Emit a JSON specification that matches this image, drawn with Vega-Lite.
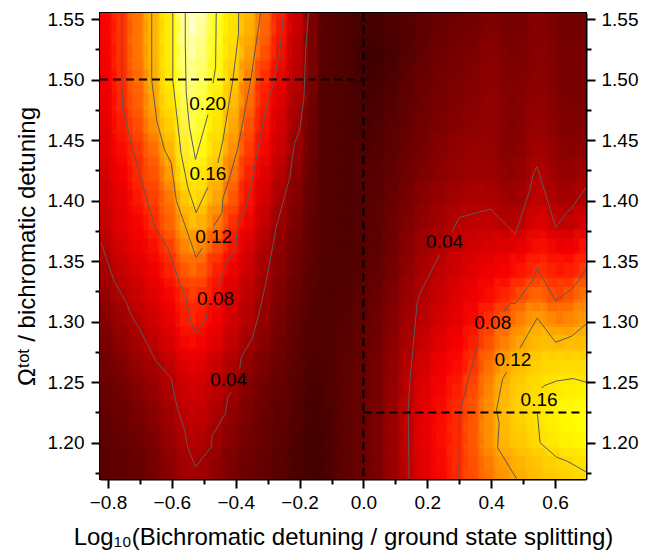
{"$schema":"https://vega.github.io/schema/vega-lite/v6.json","width":486,"height":466,"autosize":"none","padding":{"left":100,"top":13,"right":66,"bottom":73},"background":"white","config":{"view":{"stroke":"#000","strokeWidth":2},"axis":{"grid":false,"labelFont":"Liberation Sans","labelFontSize":19,"labelColor":"#000","titleFont":"Liberation Sans","titleColor":"#000","titleFontWeight":"normal","tickColor":"#000","tickWidth":2,"domainColor":"#000","domainWidth":2,"zindex":1}},"resolve":{"axis":{"x":"independent","y":"independent"}},"datasets":{"grid":[
{"x":-0.825,"y":1.55,"v":0.058},{"x":-0.775,"y":1.55,"v":0.073},{"x":-0.725,"y":1.55,"v":0.093},{"x":-0.675,"y":1.55,"v":0.115},{"x":-0.625,"y":1.55,"v":0.143},{"x":-0.575,"y":1.55,"v":0.183},{"x":-0.525,"y":1.55,"v":0.23},{"x":-0.475,"y":1.55,"v":0.21},{"x":-0.425,"y":1.55,"v":0.18},{"x":-0.375,"y":1.55,"v":0.15},{"x":-0.325,"y":1.55,"v":0.122},{"x":-0.275,"y":1.55,"v":0.094},{"x":-0.225,"y":1.55,"v":0.067},{"x":-0.175,"y":1.55,"v":0.042},{"x":-0.125,"y":1.55,"v":0.01},{"x":-0.075,"y":1.55,"v":0.007},{"x":-0.025,"y":1.55,"v":0.006},{"x":0.025,"y":1.55,"v":0.005},{"x":0.075,"y":1.55,"v":0.006},{"x":0.125,"y":1.55,"v":0.007},{"x":0.175,"y":1.55,"v":0.009},{"x":0.225,"y":1.55,"v":0.011},{"x":0.275,"y":1.55,"v":0.013},{"x":0.325,"y":1.55,"v":0.016},{"x":0.375,"y":1.55,"v":0.017},{"x":0.425,"y":1.55,"v":0.022},{"x":0.475,"y":1.55,"v":0.017},{"x":0.525,"y":1.55,"v":0.02},{"x":0.575,"y":1.55,"v":0.025},{"x":0.625,"y":1.55,"v":0.017},{"x":0.675,"y":1.55,"v":0.017},{"x":0.725,"y":1.55,"v":0.017},
{"x":-0.825,"y":1.53,"v":0.058},{"x":-0.775,"y":1.53,"v":0.073},{"x":-0.725,"y":1.53,"v":0.093},{"x":-0.675,"y":1.53,"v":0.115},{"x":-0.625,"y":1.53,"v":0.143},{"x":-0.575,"y":1.53,"v":0.183},{"x":-0.525,"y":1.53,"v":0.225},{"x":-0.475,"y":1.53,"v":0.205},{"x":-0.425,"y":1.53,"v":0.175},{"x":-0.375,"y":1.53,"v":0.146},{"x":-0.325,"y":1.53,"v":0.118},{"x":-0.275,"y":1.53,"v":0.09},{"x":-0.225,"y":1.53,"v":0.062},{"x":-0.175,"y":1.53,"v":0.038},{"x":-0.125,"y":1.53,"v":0.01},{"x":-0.075,"y":1.53,"v":0.007},{"x":-0.025,"y":1.53,"v":0.006},{"x":0.025,"y":1.53,"v":0.004},{"x":0.075,"y":1.53,"v":0.005},{"x":0.125,"y":1.53,"v":0.006},{"x":0.175,"y":1.53,"v":0.008},{"x":0.225,"y":1.53,"v":0.012},{"x":0.275,"y":1.53,"v":0.016},{"x":0.325,"y":1.53,"v":0.018},{"x":0.375,"y":1.53,"v":0.02},{"x":0.425,"y":1.53,"v":0.025},{"x":0.475,"y":1.53,"v":0.018},{"x":0.525,"y":1.53,"v":0.021},{"x":0.575,"y":1.53,"v":0.026},{"x":0.625,"y":1.53,"v":0.018},{"x":0.675,"y":1.53,"v":0.018},{"x":0.725,"y":1.53,"v":0.018},
{"x":-0.825,"y":1.51,"v":0.056},{"x":-0.775,"y":1.51,"v":0.072},{"x":-0.725,"y":1.51,"v":0.093},{"x":-0.675,"y":1.51,"v":0.115},{"x":-0.625,"y":1.51,"v":0.143},{"x":-0.575,"y":1.51,"v":0.183},{"x":-0.525,"y":1.51,"v":0.22},{"x":-0.475,"y":1.51,"v":0.202},{"x":-0.425,"y":1.51,"v":0.172},{"x":-0.375,"y":1.51,"v":0.14},{"x":-0.325,"y":1.51,"v":0.11},{"x":-0.275,"y":1.51,"v":0.081},{"x":-0.225,"y":1.51,"v":0.056},{"x":-0.175,"y":1.51,"v":0.037},{"x":-0.125,"y":1.51,"v":0.009},{"x":-0.075,"y":1.51,"v":0.007},{"x":-0.025,"y":1.51,"v":0.006},{"x":0.025,"y":1.51,"v":0.003},{"x":0.075,"y":1.51,"v":0.004},{"x":0.125,"y":1.51,"v":0.006},{"x":0.175,"y":1.51,"v":0.009},{"x":0.225,"y":1.51,"v":0.014},{"x":0.275,"y":1.51,"v":0.018},{"x":0.325,"y":1.51,"v":0.02},{"x":0.375,"y":1.51,"v":0.023},{"x":0.425,"y":1.51,"v":0.027},{"x":0.475,"y":1.51,"v":0.02},{"x":0.525,"y":1.51,"v":0.023},{"x":0.575,"y":1.51,"v":0.027},{"x":0.625,"y":1.51,"v":0.02},{"x":0.675,"y":1.51,"v":0.019},{"x":0.725,"y":1.51,"v":0.02},
{"x":-0.825,"y":1.49,"v":0.054},{"x":-0.775,"y":1.49,"v":0.07},{"x":-0.725,"y":1.49,"v":0.09},{"x":-0.675,"y":1.49,"v":0.11},{"x":-0.625,"y":1.49,"v":0.14},{"x":-0.575,"y":1.49,"v":0.18},{"x":-0.525,"y":1.49,"v":0.215},{"x":-0.475,"y":1.49,"v":0.197},{"x":-0.425,"y":1.49,"v":0.168},{"x":-0.375,"y":1.49,"v":0.13},{"x":-0.325,"y":1.49,"v":0.098},{"x":-0.275,"y":1.49,"v":0.072},{"x":-0.225,"y":1.49,"v":0.052},{"x":-0.175,"y":1.49,"v":0.036},{"x":-0.125,"y":1.49,"v":0.009},{"x":-0.075,"y":1.49,"v":0.007},{"x":-0.025,"y":1.49,"v":0.006},{"x":0.025,"y":1.49,"v":0.004},{"x":0.075,"y":1.49,"v":0.005},{"x":0.125,"y":1.49,"v":0.008},{"x":0.175,"y":1.49,"v":0.011},{"x":0.225,"y":1.49,"v":0.016},{"x":0.275,"y":1.49,"v":0.02},{"x":0.325,"y":1.49,"v":0.022},{"x":0.375,"y":1.49,"v":0.025},{"x":0.425,"y":1.49,"v":0.029},{"x":0.475,"y":1.49,"v":0.021},{"x":0.525,"y":1.49,"v":0.024},{"x":0.575,"y":1.49,"v":0.028},{"x":0.625,"y":1.49,"v":0.021},{"x":0.675,"y":1.49,"v":0.019},{"x":0.725,"y":1.49,"v":0.022},
{"x":-0.825,"y":1.47,"v":0.052},{"x":-0.775,"y":1.47,"v":0.067},{"x":-0.725,"y":1.47,"v":0.087},{"x":-0.675,"y":1.47,"v":0.107},{"x":-0.625,"y":1.47,"v":0.135},{"x":-0.575,"y":1.47,"v":0.17},{"x":-0.525,"y":1.47,"v":0.21},{"x":-0.475,"y":1.47,"v":0.186},{"x":-0.425,"y":1.47,"v":0.157},{"x":-0.375,"y":1.47,"v":0.12},{"x":-0.325,"y":1.47,"v":0.092},{"x":-0.275,"y":1.47,"v":0.068},{"x":-0.225,"y":1.47,"v":0.048},{"x":-0.175,"y":1.47,"v":0.03},{"x":-0.125,"y":1.47,"v":0.008},{"x":-0.075,"y":1.47,"v":0.006},{"x":-0.025,"y":1.47,"v":0.006},{"x":0.025,"y":1.47,"v":0.005},{"x":0.075,"y":1.47,"v":0.006},{"x":0.125,"y":1.47,"v":0.009},{"x":0.175,"y":1.47,"v":0.013},{"x":0.225,"y":1.47,"v":0.018},{"x":0.275,"y":1.47,"v":0.021},{"x":0.325,"y":1.47,"v":0.024},{"x":0.375,"y":1.47,"v":0.027},{"x":0.425,"y":1.47,"v":0.03},{"x":0.475,"y":1.47,"v":0.021},{"x":0.525,"y":1.47,"v":0.027},{"x":0.575,"y":1.47,"v":0.03},{"x":0.625,"y":1.47,"v":0.023},{"x":0.675,"y":1.47,"v":0.02},{"x":0.725,"y":1.47,"v":0.023},
{"x":-0.825,"y":1.45,"v":0.05},{"x":-0.775,"y":1.45,"v":0.063},{"x":-0.725,"y":1.45,"v":0.08},{"x":-0.675,"y":1.45,"v":0.1},{"x":-0.625,"y":1.45,"v":0.125},{"x":-0.575,"y":1.45,"v":0.155},{"x":-0.525,"y":1.45,"v":0.205},{"x":-0.475,"y":1.45,"v":0.175},{"x":-0.425,"y":1.45,"v":0.15},{"x":-0.375,"y":1.45,"v":0.113},{"x":-0.325,"y":1.45,"v":0.08},{"x":-0.275,"y":1.45,"v":0.062},{"x":-0.225,"y":1.45,"v":0.043},{"x":-0.175,"y":1.45,"v":0.027},{"x":-0.125,"y":1.45,"v":0.008},{"x":-0.075,"y":1.45,"v":0.006},{"x":-0.025,"y":1.45,"v":0.006},{"x":0.025,"y":1.45,"v":0.005},{"x":0.075,"y":1.45,"v":0.007},{"x":0.125,"y":1.45,"v":0.01},{"x":0.175,"y":1.45,"v":0.015},{"x":0.225,"y":1.45,"v":0.02},{"x":0.275,"y":1.45,"v":0.023},{"x":0.325,"y":1.45,"v":0.027},{"x":0.375,"y":1.45,"v":0.029},{"x":0.425,"y":1.45,"v":0.029},{"x":0.475,"y":1.45,"v":0.021},{"x":0.525,"y":1.45,"v":0.027},{"x":0.575,"y":1.45,"v":0.033},{"x":0.625,"y":1.45,"v":0.024},{"x":0.675,"y":1.45,"v":0.021},{"x":0.725,"y":1.45,"v":0.025},
{"x":-0.825,"y":1.43,"v":0.048},{"x":-0.775,"y":1.43,"v":0.06},{"x":-0.725,"y":1.43,"v":0.073},{"x":-0.675,"y":1.43,"v":0.09},{"x":-0.625,"y":1.43,"v":0.108},{"x":-0.575,"y":1.43,"v":0.145},{"x":-0.525,"y":1.43,"v":0.198},{"x":-0.475,"y":1.43,"v":0.172},{"x":-0.425,"y":1.43,"v":0.135},{"x":-0.375,"y":1.43,"v":0.105},{"x":-0.325,"y":1.43,"v":0.075},{"x":-0.275,"y":1.43,"v":0.058},{"x":-0.225,"y":1.43,"v":0.042},{"x":-0.175,"y":1.43,"v":0.024},{"x":-0.125,"y":1.43,"v":0.008},{"x":-0.075,"y":1.43,"v":0.006},{"x":-0.025,"y":1.43,"v":0.006},{"x":0.025,"y":1.43,"v":0.006},{"x":0.075,"y":1.43,"v":0.008},{"x":0.125,"y":1.43,"v":0.012},{"x":0.175,"y":1.43,"v":0.017},{"x":0.225,"y":1.43,"v":0.022},{"x":0.275,"y":1.43,"v":0.026},{"x":0.325,"y":1.43,"v":0.03},{"x":0.375,"y":1.43,"v":0.031},{"x":0.425,"y":1.43,"v":0.03},{"x":0.475,"y":1.43,"v":0.024},{"x":0.525,"y":1.43,"v":0.03},{"x":0.575,"y":1.43,"v":0.039},{"x":0.625,"y":1.43,"v":0.026},{"x":0.675,"y":1.43,"v":0.026},{"x":0.725,"y":1.43,"v":0.03},
{"x":-0.825,"y":1.41,"v":0.046},{"x":-0.775,"y":1.41,"v":0.056},{"x":-0.725,"y":1.41,"v":0.067},{"x":-0.675,"y":1.41,"v":0.088},{"x":-0.625,"y":1.41,"v":0.1},{"x":-0.575,"y":1.41,"v":0.133},{"x":-0.525,"y":1.41,"v":0.18},{"x":-0.475,"y":1.41,"v":0.15},{"x":-0.425,"y":1.41,"v":0.125},{"x":-0.375,"y":1.41,"v":0.093},{"x":-0.325,"y":1.41,"v":0.066},{"x":-0.275,"y":1.41,"v":0.05},{"x":-0.225,"y":1.41,"v":0.034},{"x":-0.175,"y":1.41,"v":0.02},{"x":-0.125,"y":1.41,"v":0.008},{"x":-0.075,"y":1.41,"v":0.006},{"x":-0.025,"y":1.41,"v":0.006},{"x":0.025,"y":1.41,"v":0.007},{"x":0.075,"y":1.41,"v":0.009},{"x":0.125,"y":1.41,"v":0.014},{"x":0.175,"y":1.41,"v":0.02},{"x":0.225,"y":1.41,"v":0.025},{"x":0.275,"y":1.41,"v":0.029},{"x":0.325,"y":1.41,"v":0.033},{"x":0.375,"y":1.41,"v":0.035},{"x":0.425,"y":1.41,"v":0.034},{"x":0.475,"y":1.41,"v":0.027},{"x":0.525,"y":1.41,"v":0.035},{"x":0.575,"y":1.41,"v":0.044},{"x":0.625,"y":1.41,"v":0.03},{"x":0.675,"y":1.41,"v":0.031},{"x":0.725,"y":1.41,"v":0.04},
{"x":-0.825,"y":1.39,"v":0.044},{"x":-0.775,"y":1.39,"v":0.053},{"x":-0.725,"y":1.39,"v":0.062},{"x":-0.675,"y":1.39,"v":0.078},{"x":-0.625,"y":1.39,"v":0.093},{"x":-0.575,"y":1.39,"v":0.112},{"x":-0.525,"y":1.39,"v":0.16},{"x":-0.475,"y":1.39,"v":0.138},{"x":-0.425,"y":1.39,"v":0.112},{"x":-0.375,"y":1.39,"v":0.083},{"x":-0.325,"y":1.39,"v":0.06},{"x":-0.275,"y":1.39,"v":0.044},{"x":-0.225,"y":1.39,"v":0.03},{"x":-0.175,"y":1.39,"v":0.017},{"x":-0.125,"y":1.39,"v":0.008},{"x":-0.075,"y":1.39,"v":0.006},{"x":-0.025,"y":1.39,"v":0.006},{"x":0.025,"y":1.39,"v":0.007},{"x":0.075,"y":1.39,"v":0.01},{"x":0.125,"y":1.39,"v":0.016},{"x":0.175,"y":1.39,"v":0.023},{"x":0.225,"y":1.39,"v":0.029},{"x":0.275,"y":1.39,"v":0.034},{"x":0.325,"y":1.39,"v":0.04},{"x":0.375,"y":1.39,"v":0.041},{"x":0.425,"y":1.39,"v":0.04},{"x":0.475,"y":1.39,"v":0.033},{"x":0.525,"y":1.39,"v":0.04},{"x":0.575,"y":1.39,"v":0.05},{"x":0.625,"y":1.39,"v":0.037},{"x":0.675,"y":1.39,"v":0.039},{"x":0.725,"y":1.39,"v":0.045},
{"x":-0.825,"y":1.37,"v":0.04},{"x":-0.775,"y":1.37,"v":0.05},{"x":-0.725,"y":1.37,"v":0.06},{"x":-0.675,"y":1.37,"v":0.07},{"x":-0.625,"y":1.37,"v":0.088},{"x":-0.575,"y":1.37,"v":0.108},{"x":-0.525,"y":1.37,"v":0.135},{"x":-0.475,"y":1.37,"v":0.118},{"x":-0.425,"y":1.37,"v":0.097},{"x":-0.375,"y":1.37,"v":0.072},{"x":-0.325,"y":1.37,"v":0.055},{"x":-0.275,"y":1.37,"v":0.038},{"x":-0.225,"y":1.37,"v":0.026},{"x":-0.175,"y":1.37,"v":0.015},{"x":-0.125,"y":1.37,"v":0.008},{"x":-0.075,"y":1.37,"v":0.006},{"x":-0.025,"y":1.37,"v":0.006},{"x":0.025,"y":1.37,"v":0.008},{"x":0.075,"y":1.37,"v":0.011},{"x":0.125,"y":1.37,"v":0.018},{"x":0.175,"y":1.37,"v":0.026},{"x":0.225,"y":1.37,"v":0.033},{"x":0.275,"y":1.37,"v":0.04},{"x":0.325,"y":1.37,"v":0.045},{"x":0.375,"y":1.37,"v":0.047},{"x":0.425,"y":1.37,"v":0.048},{"x":0.475,"y":1.37,"v":0.041},{"x":0.525,"y":1.37,"v":0.052},{"x":0.575,"y":1.37,"v":0.062},{"x":0.625,"y":1.37,"v":0.047},{"x":0.675,"y":1.37,"v":0.05},{"x":0.725,"y":1.37,"v":0.06},
{"x":-0.825,"y":1.35,"v":0.034},{"x":-0.775,"y":1.35,"v":0.046},{"x":-0.725,"y":1.35,"v":0.055},{"x":-0.675,"y":1.35,"v":0.062},{"x":-0.625,"y":1.35,"v":0.074},{"x":-0.575,"y":1.35,"v":0.093},{"x":-0.525,"y":1.35,"v":0.118},{"x":-0.475,"y":1.35,"v":0.103},{"x":-0.425,"y":1.35,"v":0.08},{"x":-0.375,"y":1.35,"v":0.064},{"x":-0.325,"y":1.35,"v":0.046},{"x":-0.275,"y":1.35,"v":0.033},{"x":-0.225,"y":1.35,"v":0.022},{"x":-0.175,"y":1.35,"v":0.013},{"x":-0.125,"y":1.35,"v":0.008},{"x":-0.075,"y":1.35,"v":0.006},{"x":-0.025,"y":1.35,"v":0.006},{"x":0.025,"y":1.35,"v":0.008},{"x":0.075,"y":1.35,"v":0.012},{"x":0.125,"y":1.35,"v":0.02},{"x":0.175,"y":1.35,"v":0.03},{"x":0.225,"y":1.35,"v":0.038},{"x":0.275,"y":1.35,"v":0.044},{"x":0.325,"y":1.35,"v":0.05},{"x":0.375,"y":1.35,"v":0.054},{"x":0.425,"y":1.35,"v":0.057},{"x":0.475,"y":1.35,"v":0.062},{"x":0.525,"y":1.35,"v":0.068},{"x":0.575,"y":1.35,"v":0.076},{"x":0.625,"y":1.35,"v":0.066},{"x":0.675,"y":1.35,"v":0.07},{"x":0.725,"y":1.35,"v":0.078},
{"x":-0.825,"y":1.33,"v":0.028},{"x":-0.775,"y":1.33,"v":0.04},{"x":-0.725,"y":1.33,"v":0.049},{"x":-0.675,"y":1.33,"v":0.055},{"x":-0.625,"y":1.33,"v":0.065},{"x":-0.575,"y":1.33,"v":0.08},{"x":-0.525,"y":1.33,"v":0.103},{"x":-0.475,"y":1.33,"v":0.09},{"x":-0.425,"y":1.33,"v":0.068},{"x":-0.375,"y":1.33,"v":0.055},{"x":-0.325,"y":1.33,"v":0.043},{"x":-0.275,"y":1.33,"v":0.03},{"x":-0.225,"y":1.33,"v":0.02},{"x":-0.175,"y":1.33,"v":0.012},{"x":-0.125,"y":1.33,"v":0.007},{"x":-0.075,"y":1.33,"v":0.006},{"x":-0.025,"y":1.33,"v":0.007},{"x":0.025,"y":1.33,"v":0.009},{"x":0.075,"y":1.33,"v":0.014},{"x":0.125,"y":1.33,"v":0.023},{"x":0.175,"y":1.33,"v":0.034},{"x":0.225,"y":1.33,"v":0.042},{"x":0.275,"y":1.33,"v":0.049},{"x":0.325,"y":1.33,"v":0.055},{"x":0.375,"y":1.33,"v":0.06},{"x":0.425,"y":1.33,"v":0.065},{"x":0.475,"y":1.33,"v":0.072},{"x":0.525,"y":1.33,"v":0.08},{"x":0.575,"y":1.33,"v":0.09},{"x":0.625,"y":1.33,"v":0.077},{"x":0.675,"y":1.33,"v":0.084},{"x":0.725,"y":1.33,"v":0.095},
{"x":-0.825,"y":1.31,"v":0.022},{"x":-0.775,"y":1.31,"v":0.031},{"x":-0.725,"y":1.31,"v":0.042},{"x":-0.675,"y":1.31,"v":0.05},{"x":-0.625,"y":1.31,"v":0.058},{"x":-0.575,"y":1.31,"v":0.07},{"x":-0.525,"y":1.31,"v":0.087},{"x":-0.475,"y":1.31,"v":0.077},{"x":-0.425,"y":1.31,"v":0.061},{"x":-0.375,"y":1.31,"v":0.049},{"x":-0.325,"y":1.31,"v":0.04},{"x":-0.275,"y":1.31,"v":0.027},{"x":-0.225,"y":1.31,"v":0.017},{"x":-0.175,"y":1.31,"v":0.01},{"x":-0.125,"y":1.31,"v":0.006},{"x":-0.075,"y":1.31,"v":0.006},{"x":-0.025,"y":1.31,"v":0.008},{"x":0.025,"y":1.31,"v":0.01},{"x":0.075,"y":1.31,"v":0.016},{"x":0.125,"y":1.31,"v":0.026},{"x":0.175,"y":1.31,"v":0.037},{"x":0.225,"y":1.31,"v":0.045},{"x":0.275,"y":1.31,"v":0.052},{"x":0.325,"y":1.31,"v":0.059},{"x":0.375,"y":1.31,"v":0.065},{"x":0.425,"y":1.31,"v":0.076},{"x":0.475,"y":1.31,"v":0.088},{"x":0.525,"y":1.31,"v":0.105},{"x":0.575,"y":1.31,"v":0.108},{"x":0.625,"y":1.31,"v":0.093},{"x":0.675,"y":1.31,"v":0.105},{"x":0.725,"y":1.31,"v":0.115},
{"x":-0.825,"y":1.29,"v":0.018},{"x":-0.775,"y":1.29,"v":0.026},{"x":-0.725,"y":1.29,"v":0.034},{"x":-0.675,"y":1.29,"v":0.044},{"x":-0.625,"y":1.29,"v":0.052},{"x":-0.575,"y":1.29,"v":0.063},{"x":-0.525,"y":1.29,"v":0.08},{"x":-0.475,"y":1.29,"v":0.07},{"x":-0.425,"y":1.29,"v":0.058},{"x":-0.375,"y":1.29,"v":0.047},{"x":-0.325,"y":1.29,"v":0.036},{"x":-0.275,"y":1.29,"v":0.024},{"x":-0.225,"y":1.29,"v":0.015},{"x":-0.175,"y":1.29,"v":0.009},{"x":-0.125,"y":1.29,"v":0.006},{"x":-0.075,"y":1.29,"v":0.007},{"x":-0.025,"y":1.29,"v":0.009},{"x":0.025,"y":1.29,"v":0.011},{"x":0.075,"y":1.29,"v":0.018},{"x":0.125,"y":1.29,"v":0.028},{"x":0.175,"y":1.29,"v":0.039},{"x":0.225,"y":1.29,"v":0.048},{"x":0.275,"y":1.29,"v":0.056},{"x":0.325,"y":1.29,"v":0.063},{"x":0.375,"y":1.29,"v":0.075},{"x":0.425,"y":1.29,"v":0.095},{"x":0.475,"y":1.29,"v":0.105},{"x":0.525,"y":1.29,"v":0.12},{"x":0.575,"y":1.29,"v":0.126},{"x":0.625,"y":1.29,"v":0.114},{"x":0.675,"y":1.29,"v":0.118},{"x":0.725,"y":1.29,"v":0.125},
{"x":-0.825,"y":1.27,"v":0.015},{"x":-0.775,"y":1.27,"v":0.021},{"x":-0.725,"y":1.27,"v":0.028},{"x":-0.675,"y":1.27,"v":0.037},{"x":-0.625,"y":1.27,"v":0.046},{"x":-0.575,"y":1.27,"v":0.056},{"x":-0.525,"y":1.27,"v":0.068},{"x":-0.475,"y":1.27,"v":0.06},{"x":-0.425,"y":1.27,"v":0.05},{"x":-0.375,"y":1.27,"v":0.039},{"x":-0.325,"y":1.27,"v":0.029},{"x":-0.275,"y":1.27,"v":0.02},{"x":-0.225,"y":1.27,"v":0.013},{"x":-0.175,"y":1.27,"v":0.008},{"x":-0.125,"y":1.27,"v":0.006},{"x":-0.075,"y":1.27,"v":0.007},{"x":-0.025,"y":1.27,"v":0.01},{"x":0.025,"y":1.27,"v":0.012},{"x":0.075,"y":1.27,"v":0.02},{"x":0.125,"y":1.27,"v":0.032},{"x":0.175,"y":1.27,"v":0.044},{"x":0.225,"y":1.27,"v":0.054},{"x":0.275,"y":1.27,"v":0.062},{"x":0.325,"y":1.27,"v":0.07},{"x":0.375,"y":1.27,"v":0.088},{"x":0.425,"y":1.27,"v":0.105},{"x":0.475,"y":1.27,"v":0.12},{"x":0.525,"y":1.27,"v":0.13},{"x":0.575,"y":1.27,"v":0.14},{"x":0.625,"y":1.27,"v":0.14},{"x":0.675,"y":1.27,"v":0.142},{"x":0.725,"y":1.27,"v":0.14},
{"x":-0.825,"y":1.25,"v":0.013},{"x":-0.775,"y":1.25,"v":0.017},{"x":-0.725,"y":1.25,"v":0.023},{"x":-0.675,"y":1.25,"v":0.031},{"x":-0.625,"y":1.25,"v":0.036},{"x":-0.575,"y":1.25,"v":0.045},{"x":-0.525,"y":1.25,"v":0.058},{"x":-0.475,"y":1.25,"v":0.05},{"x":-0.425,"y":1.25,"v":0.042},{"x":-0.375,"y":1.25,"v":0.031},{"x":-0.325,"y":1.25,"v":0.023},{"x":-0.275,"y":1.25,"v":0.016},{"x":-0.225,"y":1.25,"v":0.011},{"x":-0.175,"y":1.25,"v":0.007},{"x":-0.125,"y":1.25,"v":0.005},{"x":-0.075,"y":1.25,"v":0.007},{"x":-0.025,"y":1.25,"v":0.011},{"x":0.025,"y":1.25,"v":0.013},{"x":0.075,"y":1.25,"v":0.022},{"x":0.125,"y":1.25,"v":0.034},{"x":0.175,"y":1.25,"v":0.047},{"x":0.225,"y":1.25,"v":0.058},{"x":0.275,"y":1.25,"v":0.068},{"x":0.325,"y":1.25,"v":0.077},{"x":0.375,"y":1.25,"v":0.095},{"x":0.425,"y":1.25,"v":0.116},{"x":0.475,"y":1.25,"v":0.132},{"x":0.525,"y":1.25,"v":0.145},{"x":0.575,"y":1.25,"v":0.155},{"x":0.625,"y":1.25,"v":0.16},{"x":0.675,"y":1.25,"v":0.161},{"x":0.725,"y":1.25,"v":0.159},
{"x":-0.825,"y":1.23,"v":0.011},{"x":-0.775,"y":1.23,"v":0.014},{"x":-0.725,"y":1.23,"v":0.018},{"x":-0.675,"y":1.23,"v":0.024},{"x":-0.625,"y":1.23,"v":0.031},{"x":-0.575,"y":1.23,"v":0.042},{"x":-0.525,"y":1.23,"v":0.052},{"x":-0.475,"y":1.23,"v":0.047},{"x":-0.425,"y":1.23,"v":0.04},{"x":-0.375,"y":1.23,"v":0.028},{"x":-0.325,"y":1.23,"v":0.02},{"x":-0.275,"y":1.23,"v":0.014},{"x":-0.225,"y":1.23,"v":0.01},{"x":-0.175,"y":1.23,"v":0.006},{"x":-0.125,"y":1.23,"v":0.005},{"x":-0.075,"y":1.23,"v":0.007},{"x":-0.025,"y":1.23,"v":0.011},{"x":0.025,"y":1.23,"v":0.014},{"x":0.075,"y":1.23,"v":0.023},{"x":0.125,"y":1.23,"v":0.036},{"x":0.175,"y":1.23,"v":0.05},{"x":0.225,"y":1.23,"v":0.062},{"x":0.275,"y":1.23,"v":0.073},{"x":0.325,"y":1.23,"v":0.084},{"x":0.375,"y":1.23,"v":0.102},{"x":0.425,"y":1.23,"v":0.122},{"x":0.475,"y":1.23,"v":0.14},{"x":0.525,"y":1.23,"v":0.152},{"x":0.575,"y":1.23,"v":0.162},{"x":0.625,"y":1.23,"v":0.17},{"x":0.675,"y":1.23,"v":0.175},{"x":0.725,"y":1.23,"v":0.175},
{"x":-0.825,"y":1.21,"v":0.009},{"x":-0.775,"y":1.21,"v":0.012},{"x":-0.725,"y":1.21,"v":0.015},{"x":-0.675,"y":1.21,"v":0.02},{"x":-0.625,"y":1.21,"v":0.027},{"x":-0.575,"y":1.21,"v":0.037},{"x":-0.525,"y":1.21,"v":0.047},{"x":-0.475,"y":1.21,"v":0.043},{"x":-0.425,"y":1.21,"v":0.033},{"x":-0.375,"y":1.21,"v":0.024},{"x":-0.325,"y":1.21,"v":0.017},{"x":-0.275,"y":1.21,"v":0.012},{"x":-0.225,"y":1.21,"v":0.009},{"x":-0.175,"y":1.21,"v":0.006},{"x":-0.125,"y":1.21,"v":0.004},{"x":-0.075,"y":1.21,"v":0.007},{"x":-0.025,"y":1.21,"v":0.011},{"x":0.025,"y":1.21,"v":0.015},{"x":0.075,"y":1.21,"v":0.024},{"x":0.125,"y":1.21,"v":0.037},{"x":0.175,"y":1.21,"v":0.052},{"x":0.225,"y":1.21,"v":0.064},{"x":0.275,"y":1.21,"v":0.075},{"x":0.325,"y":1.21,"v":0.086},{"x":0.375,"y":1.21,"v":0.105},{"x":0.425,"y":1.21,"v":0.123},{"x":0.475,"y":1.21,"v":0.14},{"x":0.525,"y":1.21,"v":0.152},{"x":0.575,"y":1.21,"v":0.165},{"x":0.625,"y":1.21,"v":0.175},{"x":0.675,"y":1.21,"v":0.18},{"x":0.725,"y":1.21,"v":0.185},
{"x":-0.825,"y":1.19,"v":0.008},{"x":-0.775,"y":1.19,"v":0.01},{"x":-0.725,"y":1.19,"v":0.012},{"x":-0.675,"y":1.19,"v":0.016},{"x":-0.625,"y":1.19,"v":0.023},{"x":-0.575,"y":1.19,"v":0.032},{"x":-0.525,"y":1.19,"v":0.043},{"x":-0.475,"y":1.19,"v":0.036},{"x":-0.425,"y":1.19,"v":0.028},{"x":-0.375,"y":1.19,"v":0.02},{"x":-0.325,"y":1.19,"v":0.015},{"x":-0.275,"y":1.19,"v":0.011},{"x":-0.225,"y":1.19,"v":0.008},{"x":-0.175,"y":1.19,"v":0.005},{"x":-0.125,"y":1.19,"v":0.004},{"x":-0.075,"y":1.19,"v":0.007},{"x":-0.025,"y":1.19,"v":0.012},{"x":0.025,"y":1.19,"v":0.015},{"x":0.075,"y":1.19,"v":0.024},{"x":0.125,"y":1.19,"v":0.037},{"x":0.175,"y":1.19,"v":0.052},{"x":0.225,"y":1.19,"v":0.064},{"x":0.275,"y":1.19,"v":0.075},{"x":0.325,"y":1.19,"v":0.086},{"x":0.375,"y":1.19,"v":0.105},{"x":0.425,"y":1.19,"v":0.122},{"x":0.475,"y":1.19,"v":0.135},{"x":0.525,"y":1.19,"v":0.145},{"x":0.575,"y":1.19,"v":0.155},{"x":0.625,"y":1.19,"v":0.165},{"x":0.675,"y":1.19,"v":0.172},{"x":0.725,"y":1.19,"v":0.175},
{"x":-0.825,"y":1.17,"v":0.007},{"x":-0.775,"y":1.17,"v":0.009},{"x":-0.725,"y":1.17,"v":0.011},{"x":-0.675,"y":1.17,"v":0.014},{"x":-0.625,"y":1.17,"v":0.02},{"x":-0.575,"y":1.17,"v":0.028},{"x":-0.525,"y":1.17,"v":0.037},{"x":-0.475,"y":1.17,"v":0.032},{"x":-0.425,"y":1.17,"v":0.024},{"x":-0.375,"y":1.17,"v":0.017},{"x":-0.325,"y":1.17,"v":0.013},{"x":-0.275,"y":1.17,"v":0.01},{"x":-0.225,"y":1.17,"v":0.007},{"x":-0.175,"y":1.17,"v":0.005},{"x":-0.125,"y":1.17,"v":0.004},{"x":-0.075,"y":1.17,"v":0.007},{"x":-0.025,"y":1.17,"v":0.012},{"x":0.025,"y":1.17,"v":0.015},{"x":0.075,"y":1.17,"v":0.023},{"x":0.125,"y":1.17,"v":0.036},{"x":0.175,"y":1.17,"v":0.05},{"x":0.225,"y":1.17,"v":0.062},{"x":0.275,"y":1.17,"v":0.073},{"x":0.325,"y":1.17,"v":0.087},{"x":0.375,"y":1.17,"v":0.1},{"x":0.425,"y":1.17,"v":0.112},{"x":0.475,"y":1.17,"v":0.12},{"x":0.525,"y":1.17,"v":0.13},{"x":0.575,"y":1.17,"v":0.138},{"x":0.625,"y":1.17,"v":0.145},{"x":0.675,"y":1.17,"v":0.152},{"x":0.725,"y":1.17,"v":0.155}
],"contours":[
{"c":"L20a","x":-0.558,"y":1.555},{"c":"L20a","x":-0.558,"y":1.53},{"c":"L20a","x":-0.555,"y":1.489},{"c":"L20a","x":-0.545,"y":1.461},{"c":"L20a","x":-0.526,"y":1.434},{"c":"L20a","x":-0.487,"y":1.471},
{"c":"L20b","x":-0.471,"y":1.497},{"c":"L20b","x":-0.463,"y":1.51},{"c":"L20b","x":-0.461,"y":1.555},
{"c":"L16a","x":-0.597,"y":1.555},{"c":"L16a","x":-0.597,"y":1.4995},{"c":"L16a","x":-0.584,"y":1.469},{"c":"L16a","x":-0.571,"y":1.439},{"c":"L16a","x":-0.55,"y":1.411},{"c":"L16a","x":-0.524,"y":1.39},{"c":"L16a","x":-0.487,"y":1.411},
{"c":"L16b","x":-0.456,"y":1.431},{"c":"L16b","x":-0.44,"y":1.45},{"c":"L16b","x":-0.409,"y":1.4995},{"c":"L16b","x":-0.391,"y":1.538},{"c":"L16b","x":-0.391,"y":1.555},
{"c":"L12a","x":-0.663,"y":1.555},{"c":"L12a","x":-0.663,"y":1.4995},{"c":"L12a","x":-0.647,"y":1.466},{"c":"L12a","x":-0.623,"y":1.442},{"c":"L12a","x":-0.602,"y":1.431},{"c":"L12a","x":-0.586,"y":1.4},{"c":"L12a","x":-0.55,"y":1.373},{"c":"L12a","x":-0.524,"y":1.353},{"c":"L12a","x":-0.505,"y":1.361},
{"c":"L12b","x":-0.469,"y":1.379},{"c":"L12b","x":-0.443,"y":1.39},{"c":"L12b","x":-0.44,"y":1.402},{"c":"L12b","x":-0.419,"y":1.419},{"c":"L12b","x":-0.393,"y":1.444},{"c":"L12b","x":-0.353,"y":1.4995},{"c":"L12b","x":-0.322,"y":1.555},
{"c":"L08a","x":-0.757,"y":1.555},{"c":"L08a","x":-0.757,"y":1.4995},{"c":"L08a","x":-0.754,"y":1.477},{"c":"L08a","x":-0.73,"y":1.45},{"c":"L08a","x":-0.702,"y":1.423},{"c":"L08a","x":-0.675,"y":1.398},{"c":"L08a","x":-0.651,"y":1.377},{"c":"L08a","x":-0.613,"y":1.361},{"c":"L08a","x":-0.595,"y":1.347},{"c":"L08a","x":-0.576,"y":1.332},{"c":"L08a","x":-0.555,"y":1.318},{"c":"L08a","x":-0.539,"y":1.299},{"c":"L08a","x":-0.524,"y":1.29},{"c":"L08a","x":-0.492,"y":1.303},{"c":"L08a","x":-0.487,"y":1.311},
{"c":"L08b","x":-0.454,"y":1.329},{"c":"L08b","x":-0.44,"y":1.338},{"c":"L08b","x":-0.437,"y":1.345},{"c":"L08b","x":-0.4,"y":1.361},{"c":"L08b","x":-0.393,"y":1.381},{"c":"L08b","x":-0.367,"y":1.395},{"c":"L08b","x":-0.351,"y":1.414},{"c":"L08b","x":-0.325,"y":1.45},{"c":"L08b","x":-0.304,"y":1.477},{"c":"L08b","x":-0.281,"y":1.497},{"c":"L08b","x":-0.262,"y":1.524},{"c":"L08b","x":-0.25,"y":1.555},
{"c":"L04a","x":-0.821,"y":1.365},{"c":"L04a","x":-0.801,"y":1.349},{"c":"L04a","x":-0.78,"y":1.333},{"c":"L04a","x":-0.743,"y":1.316},{"c":"L04a","x":-0.727,"y":1.305},{"c":"L04a","x":-0.701,"y":1.294},{"c":"L04a","x":-0.68,"y":1.283},{"c":"L04a","x":-0.67,"y":1.278},{"c":"L04a","x":-0.649,"y":1.267},{"c":"L04a","x":-0.602,"y":1.253},{"c":"L04a","x":-0.586,"y":1.232},{"c":"L04a","x":-0.56,"y":1.21},{"c":"L04a","x":-0.55,"y":1.196},{"c":"L04a","x":-0.526,"y":1.18},{"c":"L04a","x":-0.475,"y":1.197},{"c":"L04a","x":-0.475,"y":1.205},{"c":"L04a","x":-0.433,"y":1.224},{"c":"L04a","x":-0.424,"y":1.238},{"c":"L04a","x":-0.414,"y":1.242},
{"c":"L04b","x":-0.388,"y":1.261},{"c":"L04b","x":-0.382,"y":1.271},{"c":"L04b","x":-0.348,"y":1.286},{"c":"L04b","x":-0.325,"y":1.309},{"c":"L04b","x":-0.304,"y":1.334},{"c":"L04b","x":-0.273,"y":1.378},{"c":"L04b","x":-0.231,"y":1.419},{"c":"L04b","x":-0.216,"y":1.447},{"c":"L04b","x":-0.2,"y":1.458},{"c":"L04b","x":-0.187,"y":1.483},{"c":"L04b","x":-0.184,"y":1.4995},{"c":"L04b","x":-0.181,"y":1.524},{"c":"L04b","x":-0.172,"y":1.555},
{"c":"R04a","x":0.143,"y":1.17},{"c":"R04a","x":0.14,"y":1.227},{"c":"R04a","x":0.145,"y":1.249},{"c":"R04a","x":0.168,"y":1.315},{"c":"R04a","x":0.176,"y":1.323},{"c":"R04a","x":0.224,"y":1.348},{"c":"R04a","x":0.239,"y":1.355},
{"c":"R04b","x":0.279,"y":1.375},{"c":"R04b","x":0.3,"y":1.386},{"c":"R04b","x":0.398,"y":1.393},{"c":"R04b","x":0.476,"y":1.372},{"c":"R04b","x":0.521,"y":1.409},{"c":"R04b","x":0.533,"y":1.423},{"c":"R04b","x":0.544,"y":1.428},{"c":"R04b","x":0.602,"y":1.378},{"c":"R04b","x":0.636,"y":1.39},{"c":"R04b","x":0.652,"y":1.394},{"c":"R04b","x":0.697,"y":1.411},
{"c":"R08a","x":0.299,"y":1.17},{"c":"R08a","x":0.302,"y":1.225},{"c":"R08a","x":0.328,"y":1.2515},{"c":"R08a","x":0.356,"y":1.279},{"c":"R08a","x":0.359,"y":1.289},
{"c":"R08b","x":0.438,"y":1.308},{"c":"R08b","x":0.461,"y":1.315},{"c":"R08b","x":0.476,"y":1.315},{"c":"R08b","x":0.527,"y":1.333},{"c":"R08b","x":0.544,"y":1.344},{"c":"R08b","x":0.602,"y":1.317},{"c":"R08b","x":0.652,"y":1.327},{"c":"R08b","x":0.68,"y":1.336},{"c":"R08b","x":0.697,"y":1.344},
{"c":"R12a","x":0.48,"y":1.17},{"c":"R12a","x":0.42,"y":1.196},{"c":"R12a","x":0.425,"y":1.216},{"c":"R12a","x":0.417,"y":1.227},{"c":"R12a","x":0.436,"y":1.253},{"c":"R12a","x":0.448,"y":1.258},
{"c":"R12b","x":0.49,"y":1.278},{"c":"R12b","x":0.544,"y":1.303},{"c":"R12b","x":0.602,"y":1.283},{"c":"R12b","x":0.652,"y":1.288},{"c":"R12b","x":0.697,"y":1.298},
{"c":"R16a","x":0.697,"y":1.176},{"c":"R16a","x":0.636,"y":1.185},{"c":"R16a","x":0.605,"y":1.188},{"c":"R16a","x":0.553,"y":1.2},{"c":"R16a","x":0.545,"y":1.224},
{"c":"R16b","x":0.558,"y":1.245},{"c":"R16b","x":0.565,"y":1.247},{"c":"R16b","x":0.605,"y":1.251},{"c":"R16b","x":0.657,"y":1.253},{"c":"R16b","x":0.697,"y":1.25}
],"labels":[{"x":-0.488,"y":1.48,"t":"0.20"},{"x":-0.487,"y":1.422,"t":"0.16"},{"x":-0.469,"y":1.37,"t":"0.12"},{"x":-0.463,"y":1.319,"t":"0.08"},{"x":-0.422,"y":1.2515,"t":"0.04"},{"x":0.254,"y":1.366,"t":"0.04"},{"x":0.405,"y":1.299,"t":"0.08"},{"x":0.468,"y":1.268,"t":"0.12"},{"x":0.55,"y":1.235,"t":"0.16"}],"rules":[{"x":0,"x2":0,"y":1.555,"y2":1.17},{"x":-0.825,"x2":0,"y":1.5,"y2":1.5},{"x":0,"x2":0.68,"y":1.225,"y2":1.225}]},
"layer":[
{"data":{"name":"grid"},"mark":{"type":"rect","width":16.5,"height":25,"clip":true},"encoding":{"x":{"field":"x","type":"quantitative","scale":{"domain":[-0.825,0.697],"nice":false,"zero":false},"axis":{"orient":"bottom","values":[-0.8,-0.6,-0.4,-0.2,0,0.2,0.4,0.6],"format":".1f","tickSize":9,"labelPadding":5,"title":"Log₁₀(Bichromatic detuning / ground state splitting)","titleFontSize":24,"titlePadding":13}},"y":{"field":"y","type":"quantitative","scale":{"domain":[1.17,1.555],"nice":false,"zero":false},"axis":{"orient":"left","values":[1.2,1.25,1.3,1.35,1.4,1.45,1.5,1.55],"format":".2f","tickSize":9,"labelPadding":7,"title":"Ωᵗᵒᵗ / bichromatic detuning","titleFontSize":24,"titlePadding":8}},"color":{"field":"v","type":"quantitative","legend":null,"scale":{"domain":[0,0.003,0.006,0.01,0.02,0.03,0.04,0.06,0.07,0.08,0.1,0.12,0.14,0.16,0.18,0.2,0.23],"range":["#340000","#3c0000","#500000","#600000","#7a0000","#960000","#b00000","#ea0000","#ff0000","#ff2800","#ff5a00","#ffa000","#ffc800","#ffe100","#ffff00","#ffff3c","#ffffff"],"interpolate":"rgb"}}}},
{"data":{"name":"grid"},"mark":{"type":"rect","width":33,"height":50,"clip":true,"opacity":0.5,"xOffset":-4,"yOffset":-6},"encoding":{"x":{"field":"x","type":"quantitative","axis":null},"y":{"field":"y","type":"quantitative","axis":null},"color":{"field":"v","type":"quantitative","legend":null}}},
{"data":{"name":"grid"},"mark":{"type":"rect","width":25,"height":37,"clip":true,"opacity":0.4,"xOffset":-3,"yOffset":-4},"encoding":{"x":{"field":"x","type":"quantitative","axis":null},"y":{"field":"y","type":"quantitative","axis":null},"color":{"field":"v","type":"quantitative","legend":null}}},
{"data":{"name":"contours"},"mark":{"type":"line","stroke":"#5a5a5a","strokeWidth":1,"clip":true},"encoding":{"x":{"field":"x","type":"quantitative","axis":{"orient":"bottom","values":[-0.7,-0.5,-0.3,-0.1,0.1,0.3,0.5],"tickSize":5,"labels":false,"title":null,"domain":false}},"y":{"field":"y","type":"quantitative","axis":{"orient":"right","values":[1.2,1.25,1.3,1.35,1.4,1.45,1.5,1.55],"format":".2f","tickSize":9,"labelPadding":6,"title":null}},"detail":{"field":"c"},"order":{"value":null}}},
{"data":{"name":"rules"},"mark":{"type":"rule","stroke":"#000","strokeWidth":2,"strokeDash":[8,5]},"encoding":{"x":{"field":"x","type":"quantitative","axis":{"orient":"top","ticks":false,"labels":false,"title":null}},"x2":{"field":"x2"},"y":{"field":"y","type":"quantitative","axis":{"orient":"left","values":[1.175,1.225,1.275,1.325,1.375,1.425,1.475,1.525],"tickSize":5,"labels":false,"title":null,"domain":false}},"y2":{"field":"y2"}}},
{"data":{"name":"labels"},"mark":{"type":"text","font":"Liberation Sans","fontSize":19,"fill":"#000"},"encoding":{"x":{"field":"x","type":"quantitative","axis":null},"y":{"field":"y","type":"quantitative","axis":{"orient":"right","values":[1.175,1.225,1.275,1.325,1.375,1.425,1.475,1.525],"tickSize":5,"labels":false,"title":null,"domain":false}},"text":{"field":"t"}}}
]}
